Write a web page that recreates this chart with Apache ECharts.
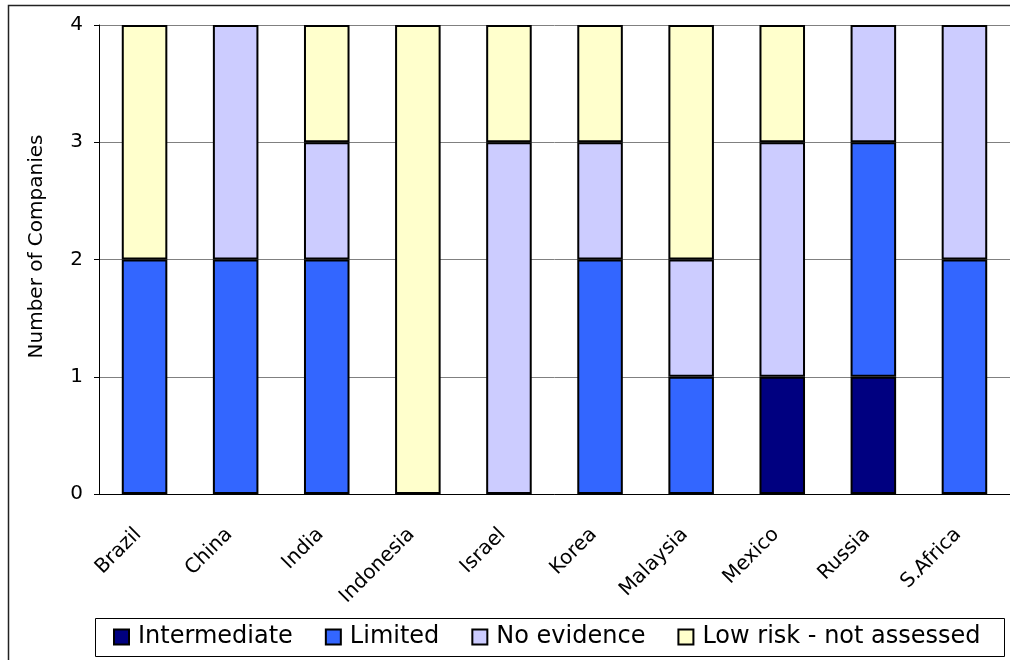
<!DOCTYPE html>
<html><head><meta charset="utf-8">
<script src="https://cdn.jsdelivr.net/npm/echarts@6/dist/echarts.min.js"></script>
<style>html,body{margin:0;padding:0;background:#fff}#c{width:1010px;height:660px}</style>
</head><body><div id="c"></div>
<script>
const categories = ['Brazil','China','India','Indonesia','Israel','Korea','Malaysia','Mexico','Russia','S.Africa'];
const intermediate = [0,0,0,0,0,0,0,1,1,0];
const limited      = [2,2,2,0,0,2,1,0,2,2];
const noEvidence   = [0,2,1,0,3,1,1,2,1,2];
const lowRisk      = [2,0,1,4,1,1,2,1,0,0];
const yTicks = [0,1,2,3,4];

const font = 'DejaVu Sans, Verdana, sans-serif';
function mk(name, data, color){
  return {name, type:'bar', stack:'s', barWidth:'50%', data:data.map(v=>v===0?'-':v),
    itemStyle:{color, borderColor:'#000', borderWidth:2}, emphasis:{disabled:true}};
}
const chart = echarts.init(document.getElementById('c'));
chart.setOption({
  animation:false,
  textStyle:{fontFamily:font},
  graphic:[
    {type:'rect', shape:{x:8.5,y:5.5,width:1100,height:700}, style:{fill:'none',stroke:'#222',lineWidth:1.5}, z:-1},
    {type:'rect', shape:{x:95.5,y:618.5,width:909,height:38}, style:{fill:'#fff',stroke:'#000',lineWidth:1}, z:-1}
  ],
  grid:{left:99, top:25, width:920, height:469},
  xAxis:{type:'category', data:categories,
    axisLine:{lineStyle:{color:'#000',width:1}},
    axisTick:{length:6, lineStyle:{color:'#000'}},
    axisLabel:{rotate:45, fontSize:20, color:'#000', margin:31, padding:[0,9,18,0], fontFamily:font}},
  yAxis:{type:'value', min:yTicks[0], max:yTicks[yTicks.length-1], interval:1,
    name:'Number of Companies', nameLocation:'middle', nameGap:52,
    nameTextStyle:{fontSize:20, color:'#000', fontFamily:font, padding:[0,0,0,26]},
    axisLine:{show:true, lineStyle:{color:'#000'}},
    axisTick:{show:true, length:5, lineStyle:{color:'#000'}},
    axisLabel:{fontSize:20, color:'#000', margin:16, fontFamily:font},
    splitLine:{lineStyle:{color:'#808080', width:1}}},
  legend:{top:625, left:113, itemWidth:15, itemHeight:15, itemGap:32,
    padding:0, icon:'rect',
    textStyle:{fontSize:24, color:'#000', fontFamily:font, padding:[0,0,0,4]}},
  series:[
    mk('Intermediate', intermediate, '#000080'),
    mk('Limited', limited, '#3366FF'),
    mk('No evidence', noEvidence, '#CCCCFF'),
    mk('Low risk - not assessed', lowRisk, '#FFFFCC')
  ]
});
</script></body></html>
